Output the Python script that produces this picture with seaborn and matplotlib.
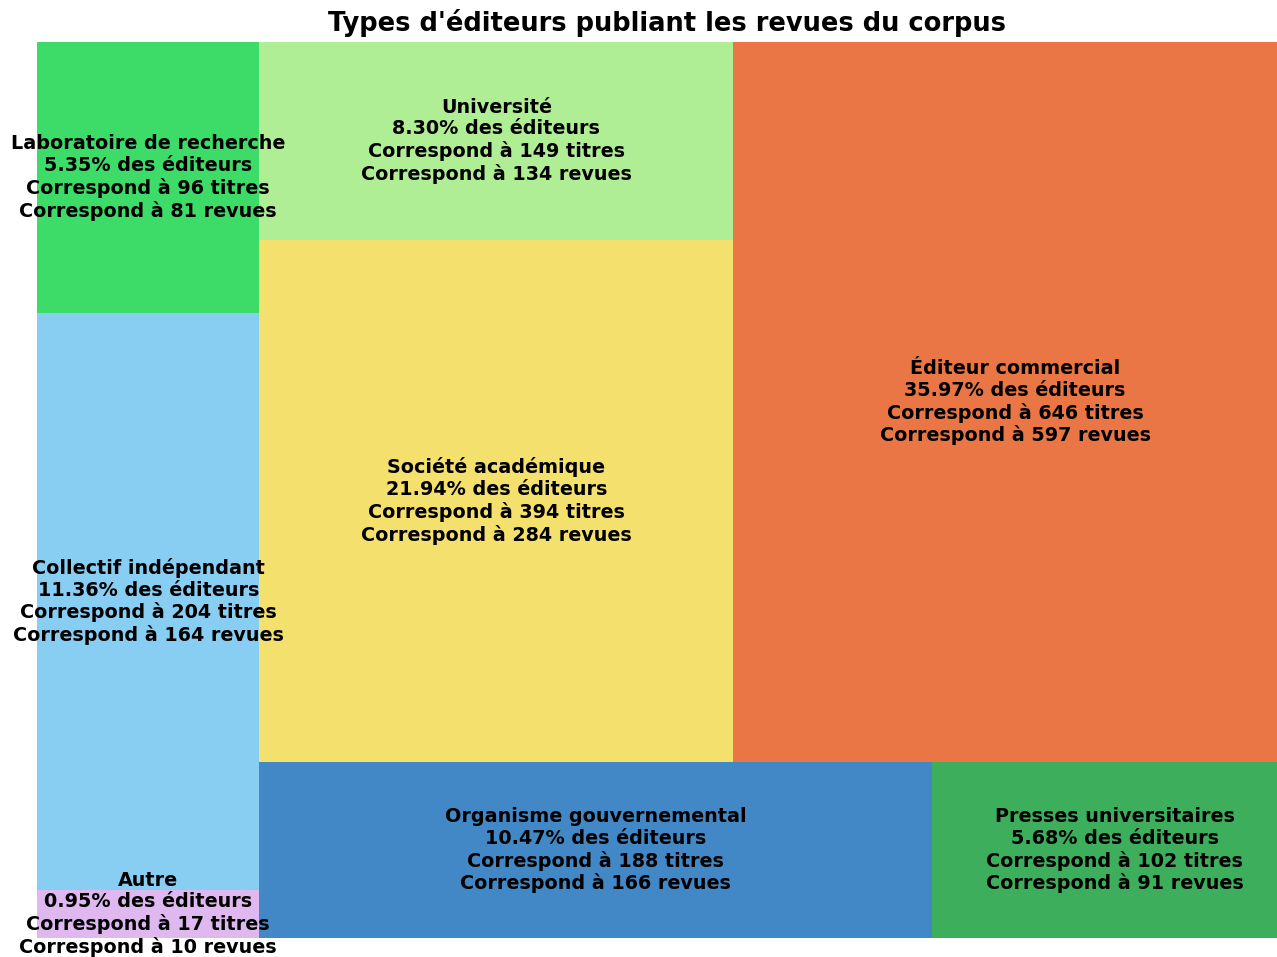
import matplotlib
matplotlib.use("Agg")
import matplotlib.pyplot as plt
import seaborn as sns

# Donnees du treemap (ordre de disposition)
labels = ["Autre", "Collectif indépendant", "Laboratoire de recherche",
          "Organisme gouvernemental", "Presses universitaires",
          "Société académique", "Université", "Éditeur commercial"]
titres = [17, 204, 96, 188, 102, 394, 149, 646]
revues = [10, 164, 81, 166, 91, 284, 134, 597]
couleurs = ["#e0b8f0", "#88cdf2", "#3ddc68", "#4287c6", "#3dae5c",
            "#f4e06d", "#b0ee95", "#ea7645"]


# petit algorithme squarify (comme le paquet squarify)
def layout_row(sizes, x, y, dx, dy):
    h = sum(sizes) / dx
    rects = []
    for s in sizes:
        rects.append((x, y, s / h, h))
        x += s / h
    return rects


def layout_col(sizes, x, y, dx, dy):
    w = sum(sizes) / dy
    rects = []
    for s in sizes:
        rects.append((x, y, w, s / w))
        y += s / w
    return rects


def layout(sizes, x, y, dx, dy):
    if dx >= dy:
        return layout_col(sizes, x, y, dx, dy)
    return layout_row(sizes, x, y, dx, dy)


def leftover(sizes, x, y, dx, dy):
    if dx >= dy:
        w = sum(sizes) / dy
        return x + w, y, dx - w, dy
    h = sum(sizes) / dx
    return x, y + h, dx, dy - h


def worst(sizes, x, y, dx, dy):
    return max(max(r[2] / r[3], r[3] / r[2]) for r in layout(sizes, x, y, dx, dy))


def squarify(sizes, x, y, dx, dy):
    if len(sizes) == 0:
        return []
    if len(sizes) == 1:
        return layout(sizes, x, y, dx, dy)
    i = 1
    while i < len(sizes) and worst(sizes[:i], x, y, dx, dy) >= worst(sizes[:i + 1], x, y, dx, dy):
        i += 1
    cur, rest = sizes[:i], sizes[i:]
    lx, ly, ldx, ldy = leftover(cur, x, y, dx, dy)
    return layout(cur, x, y, dx, dy) + squarify(rest, lx, ly, ldx, ldy)


total = sum(titres)
norm = [t * 100 * 100 / total for t in titres]
rects = squarify(norm, 0, 0, 100, 100)

sns.set_style("white")
fig = plt.figure(figsize=(12.77, 9.57), dpi=100)
ax = fig.add_axes([37 / 1277, 19 / 957, 1260 / 1277, 896 / 957])

palette = sns.color_palette(couleurs)
for (x, y, w, h), c in zip(rects, palette):
    ax.bar(x, h, width=w, bottom=y, align="edge", color=c, linewidth=0)

for (x, y, w, h), lab, t, r in zip(rects, labels, titres, revues):
    txt = f"{lab}\n{t / total * 100:.2f}% des éditeurs\nCorrespond à {t} titres\nCorrespond à {r} revues"
    ax.text(x + w / 2, y + h / 2, txt, ha="center", va="center",
            fontsize=13.8, fontweight="bold", color="black", linespacing=1.18)

ax.set_xlim(0, 100)
ax.set_ylim(0, 100)
ax.axis("off")
ax.set_title("Types d'éditeurs publiant les revues du corpus", fontsize=18.5,
             fontweight="bold", color="black", pad=8)

fig.savefig("out.png", dpi=100)
